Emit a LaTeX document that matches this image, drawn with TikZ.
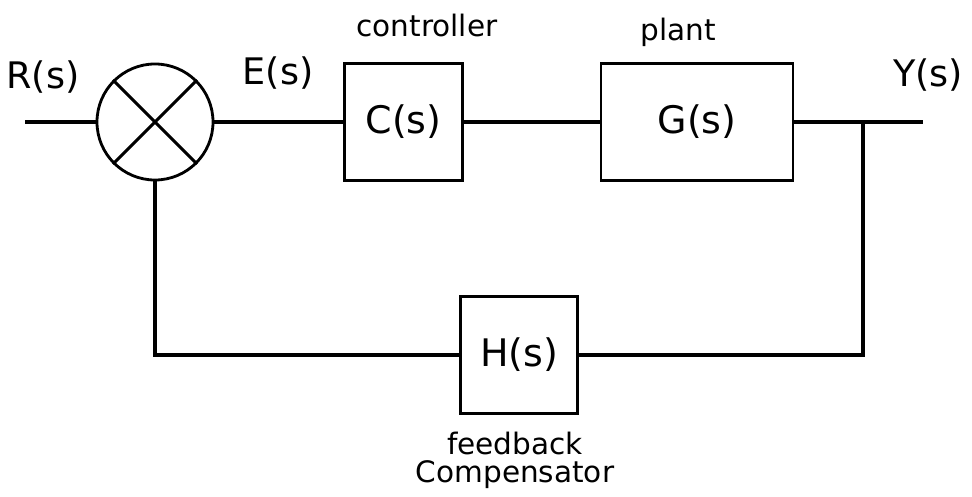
\documentclass[tikz,border=0pt]{standalone}
\usepackage{fontspec}
\setmainfont{DejaVu Sans}
\usetikzlibrary{positioning}

\begin{document}
\begin{tikzpicture}[
    x=0.025cm, y=-0.025cm,
    line width=2.2pt,
    signal/.style={font=\fontsize{26}{30}\selectfont},
    caption/.style={font=\fontsize{21}{24}\selectfont},
    block/.style={rectangle, draw, line width=2pt, minimum width=#1,
        minimum height=2.93cm, inner sep=0pt, font=\fontsize{27}{30}\selectfont},
    block/.default=2.93cm,
    summer/.style={circle, draw, line width=2pt, minimum size=2.9cm, inner sep=0pt},
]

\useasboundingbox (0,0) rectangle (972,497);

\coordinate (in) at (25,122);
\node[summer] (sum) at (155,122) {};
\draw (sum.north west) -- (sum.south east);
\draw (sum.north east) -- (sum.south west);

\node[block] (ctrl) at (403.5,122) {C(s)};
\node[block=4.8cm] (plant) at (697,122) {G(s)};
\node[block] (fb) at (519,355) {H(s)};

\coordinate (branch) at (863,122);
\coordinate (out) at (923,122);

\node[signal] (rlabel) at (43,77) {R(s)};
\node[signal] (elabel) at (278,73) {E(s)};
\node[signal] (ylabel) at (928,75) {Y(s)};

\node[caption] (ctrlname) at (427,25) {controller};
\node[caption] (plantname) at (678,32) {plant};
\node[caption] (fbname) at (515,443) {feedback};
\node[caption, below=-1.5mm of fbname] (fbname2) {Compensator};

\draw (in) -- (sum.west);
\draw (sum.east) -- (ctrl.west);
\draw (ctrl.east) -- (plant.west);
\draw (plant.east) -- (out);
\draw (branch) |- (fb.east);
\draw (fb.west) -| (sum.south);

\end{tikzpicture}
\end{document}
